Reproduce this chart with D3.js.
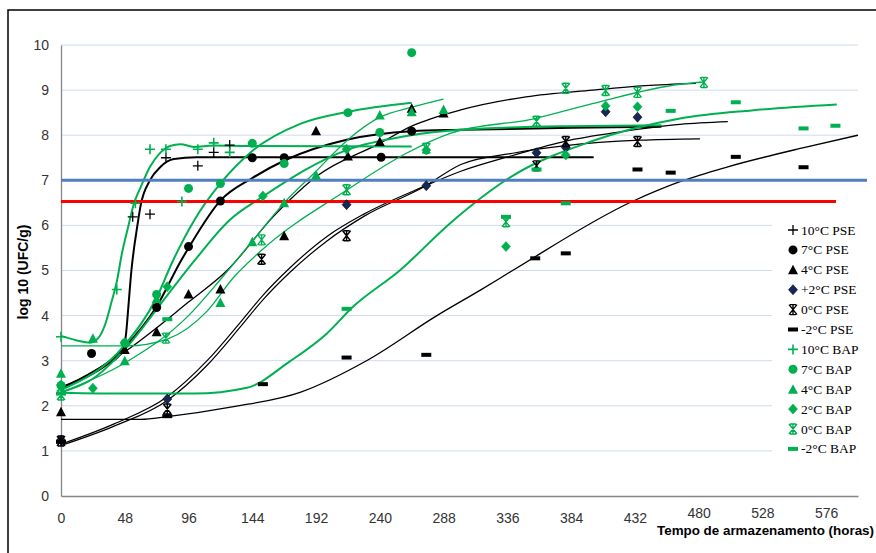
<!DOCTYPE html>
<html>
<head>
<meta charset="utf-8">
<script src="https://cdn.jsdelivr.net/npm/d3@7"></script>
<style>
  body { margin: 0; background: #fff; }
  svg { display: block; }
  .tick text { font-family: "Liberation Sans", Arial, sans-serif; font-size: 14px; fill: #333; }
</style>
</head>
<body>
<svg id="chart" width="876" height="553"></svg>
<script>
// axis ticks
const xTicks = [0, 48, 96, 144, 192, 240, 288, 336, 384, 432, 480, 528, 576];
const yTicks = [0, 1, 2, 3, 4, 5, 6, 7, 8, 9, 10];

// limit lines (log UFC/g)
const blueLimit = 7;
const redLimit = 6.53;

// observed points [hours, log UFC/g]
const pse10 = [[54, 6.19], [67, 6.25], [79, 7.5], [103, 7.32], [115, 7.62], [127, 7.78]];
const pse7 = [[23, 3.16], [72, 4.18], [96, 5.53], [120, 6.54], [144, 7.5], [168, 7.5], [241, 7.51], [264, 8.09]];
const pse4 = [[0, 1.87], [48, 3.25], [72, 3.64], [96, 4.48], [120, 4.59], [168, 5.77], [192, 8.1], [216, 7.54], [240, 7.86], [264, 8.6], [288, 8.49]];
const pseP2 = [[0, 1.24], [80, 2.15], [215, 6.46], [275, 6.88], [358, 7.61], [380, 7.73], [410, 8.52], [434, 8.4]];
const pse0 = [[0, 1.22], [80, 1.93], [151, 5.25], [215, 5.77], [358, 7.32], [380, 7.86], [434, 7.86]];
const pseM2 = [[0, 1.2], [80, 1.77], [152, 2.48], [215, 3.07], [275, 3.13], [357, 5.27], [380, 5.38], [434, 7.24], [459, 7.17], [508, 7.52], [559, 7.29]];

const bap10 = [[0, 3.53], [42, 4.58], [56, 6.49], [67, 7.69], [79, 7.69], [91, 6.53], [103, 7.69], [115, 7.83], [127, 7.62]];
const bap7 = [[0, 2.45], [48, 3.39], [72, 4.47], [96, 6.82], [120, 6.93], [144, 7.82], [168, 7.37], [216, 8.5], [240, 8.06], [264, 9.83]];
const bap4 = [[0, 2.72], [24, 3.5], [48, 3.0], [72, 4.38], [120, 4.29], [144, 5.64], [168, 6.5], [192, 7.12], [240, 8.45], [264, 8.52], [288, 8.57]];
const bap2 = [[0, 2.46], [24, 2.39], [48, 3.4], [80, 4.64], [152, 6.65], [215, 7.69], [275, 7.67], [335, 5.53], [380, 7.56], [410, 8.65], [434, 8.63]];
const bap0 = [[0, 2.24], [79, 3.5], [151, 5.68], [215, 6.79], [275, 7.71], [335, 6.08], [358, 8.31], [380, 9.04], [410, 8.99], [434, 8.95], [484, 9.17]];
const bapM2 = [[0, 2.27], [80, 3.92], [215, 4.15], [335, 6.19], [358, 7.24], [380, 6.49], [459, 8.54], [508, 8.73], [559, 8.15], [583, 8.21]];

// fitted growth curves
const fitPse10 = [[0, 2.4], [20, 2.65], [34, 2.9], [46, 3.2], [49, 3.6], [51, 4.3], [53, 5.0], [55, 5.5], [57, 5.9], [60, 6.45], [67, 7.0], [75, 7.3], [85, 7.47], [102, 7.51], [401, 7.51]];
const fitPse7 = [[0, 2.4], [47, 3.27], [72, 4.2], [90, 5.2], [96, 5.5], [120, 6.55], [144, 7.05], [169, 7.45], [215, 7.9], [264, 8.09], [301, 8.12], [400, 8.17], [452, 8.19]];
const fitPse4 = [[0, 2.37], [48, 3.2], [96, 4.3], [125, 5.0], [160, 6.2], [193, 7.1], [240, 7.82], [264, 8.2], [301, 8.56], [350, 8.85], [400, 9.0], [440, 9.1], [478, 9.15]];
const fitPseP2 = [[0, 1.15], [40, 1.6], [80, 2.2], [110, 3.0], [135, 3.85], [152, 4.45], [172, 5.05], [200, 5.75], [228, 6.25], [273, 6.86], [301, 7.2], [340, 7.55], [380, 7.87], [420, 8.07], [466, 8.24], [502, 8.3]];
const fitPse0 = [[0, 1.12], [40, 1.55], [80, 2.12], [110, 2.9], [135, 3.75], [152, 4.35], [172, 4.95], [200, 5.65], [228, 6.2], [273, 6.85], [301, 7.35], [340, 7.6], [380, 7.77], [436, 7.89], [481, 7.92]];
const fitPseM2 = [[0, 1.7], [60, 1.7], [80, 1.76], [130, 1.98], [180, 2.3], [230, 3.0], [283, 4.0], [316, 4.57], [340, 5.0], [430, 6.53], [466, 6.97], [502, 7.3], [560, 7.73], [600, 8.0]];

const fitBap10 = [[0, 3.55], [12, 3.45], [22, 3.4], [28, 3.5], [34, 3.87], [38, 4.3], [42, 4.75], [46, 5.4], [50, 5.9], [55, 6.49], [60, 6.85], [67, 7.3], [75, 7.62], [82, 7.76], [90, 7.8], [100, 7.74], [115, 7.77], [140, 7.76], [264, 7.75]];
const fitBap7 = [[0, 2.35], [48, 3.35], [72, 4.4], [84, 5.2], [100, 6.1], [120, 6.93], [144, 7.65], [180, 8.25], [216, 8.52], [264, 8.72]];
const fitBap4 = [[0, 2.3], [48, 2.95], [96, 4.0], [120, 4.8], [144, 5.65], [168, 6.5], [192, 7.2], [216, 7.9], [240, 8.4], [264, 8.62], [288, 8.8]];
const fitBap2 = [[0, 2.3], [24, 2.6], [48, 3.25], [80, 4.45], [100, 5.2], [127, 6.12], [152, 6.64], [215, 7.67], [260, 7.98], [301, 8.12], [380, 8.2], [452, 8.22]];
const fitBap0 = [[0, 3.33], [50, 3.33], [80, 3.48], [110, 4.1], [130, 4.85], [151, 5.45], [215, 6.78], [260, 7.6], [293, 8.04], [357, 8.37], [400, 8.7], [466, 9.13], [484, 9.18]];
const fitBapM2 = [[0, 2.29], [50, 2.27], [100, 2.27], [140, 2.4], [172, 2.98], [200, 3.6], [220, 4.2], [255, 5.0], [293, 6.05], [340, 7.1], [399, 7.86], [466, 8.37], [520, 8.55], [584, 8.68]];

const seriesNames = ["10°C PSE", "7°C PSE", "4°C PSE", "+2°C PSE", "0°C PSE", "-2°C PSE",
                     "10°C BAP", "7°C BAP", "4°C BAP", "2°C BAP", "0°C BAP", "-2°C BAP"];

const BLACK = "#000", NAVY = "#15285a", GREEN = "#00b050";

const series = [
  { name: seriesNames[0], pts: pse10, fit: fitPse10, sym: "plus", fill: BLACK, lw: 2 },
  { name: seriesNames[1], pts: pse7, fit: fitPse7, sym: "circle", fill: BLACK, lw: 2 },
  { name: seriesNames[2], pts: pse4, fit: fitPse4, sym: "triangle", fill: BLACK, lw: 1.3 },
  { name: seriesNames[3], pts: pseP2, fit: fitPseP2, sym: "diamond", fill: NAVY, lw: 1.2 },
  { name: seriesNames[4], pts: pse0, fit: fitPse0, sym: "star", fill: BLACK, lw: 1.2 },
  { name: seriesNames[5], pts: pseM2, fit: fitPseM2, sym: "dash", fill: BLACK, lw: 1.3 },
  { name: seriesNames[6], pts: bap10, fit: fitBap10, sym: "plus", fill: GREEN, lw: 2 },
  { name: seriesNames[7], pts: bap7, fit: fitBap7, sym: "circle", fill: GREEN, lw: 2 },
  { name: seriesNames[8], pts: bap4, fit: fitBap4, sym: "triangle", fill: GREEN, lw: 1.3 },
  { name: seriesNames[9], pts: bap2, fit: fitBap2, sym: "diamond", fill: GREEN, lw: 2 },
  { name: seriesNames[10], pts: bap0, fit: fitBap0, sym: "star", fill: GREEN, lw: 1.3 },
  { name: seriesNames[11], pts: bapM2, fit: fitBapM2, sym: "dash", fill: GREEN, lw: 2 }
];

const svg = d3.select("#chart");

// outer frame
svg.append("path")
  .attr("d", "M8,553 V10 H876")
  .attr("fill", "none")
  .attr("stroke", "#000")
  .attr("stroke-width", 1.5);

const x = d3.scaleLinear().domain([0, 600]).range([61, 858]);
const y = d3.scaleLinear().domain([0, 10]).range([496, 45]);

// gridlines
svg.append("g")
  .selectAll("line")
  .data(yTicks.filter(d => d > 0))
  .join("line")
  .attr("x1", x(0)).attr("x2", x(600))
  .attr("y1", d => y(d)).attr("y2", d => y(d))
  .attr("stroke", "#cfdbec")
  .attr("stroke-width", 1);

// axes
const xAxis = svg.append("g")
  .attr("transform", `translate(0,${y(0)})`)
  .call(d3.axisBottom(x).tickValues(xTicks).tickSize(0).tickSizeOuter(0).tickPadding(17));
const yAxis = svg.append("g")
  .attr("transform", `translate(${x(0)},0)`)
  .call(d3.axisLeft(y).tickValues(yTicks).tickSize(0).tickSizeOuter(0).tickPadding(12));
xAxis.select(".domain").attr("stroke", "#868686").attr("stroke-width", 1.3);
yAxis.select(".domain").attr("stroke", "#868686").attr("stroke-width", 1.3);
// the last labels sit a little higher, just above the axis title
xAxis.selectAll(".tick text").filter(d => d >= 480).attr("y", 12);

// fitted curves
const line = d3.line()
  .x(d => x(d[0]))
  .y(d => y(d[1]))
  .curve(d3.curveMonotoneX);

svg.append("g")
  .selectAll("path")
  .data(series)
  .join("path")
  .attr("d", d => line(d.fit))
  .attr("fill", "none")
  .attr("stroke", d => d.fill === GREEN ? GREEN : "#000")
  .attr("stroke-width", d => d.lw);

// limit lines
svg.append("line")
  .attr("x1", x(0)).attr("x2", 867)
  .attr("y1", y(blueLimit)).attr("y2", y(blueLimit))
  .attr("stroke", "#4f7fbf").attr("stroke-width", 3);
svg.append("line")
  .attr("x1", x(0)).attr("x2", 836)
  .attr("y1", y(redLimit)).attr("y2", y(redLimit))
  .attr("stroke", "#ff0000").attr("stroke-width", 3);

// marker drawing
function drawMarker(g, sym, color) {
  if (sym === "circle") {
    g.append("circle").attr("r", 4.5).attr("fill", color);
  } else if (sym === "triangle") {
    g.append("path").attr("d", "M0,-5 L5,4.5 L-5,4.5 Z").attr("fill", color);
  } else if (sym === "diamond") {
    g.append("path").attr("d", "M0,-5 L4.5,0 L0,5 L-4.5,0 Z").attr("fill", color)
      .attr("stroke", color === NAVY ? "#000" : color).attr("stroke-width", 0.6);
  } else if (sym === "plus") {
    g.append("path").attr("d", "M-5,0 H5 M0,-5 V5").attr("stroke", color)
      .attr("stroke-width", color === GREEN ? 1.6 : 1.3).attr("fill", "none");
  } else if (sym === "star") {
    g.append("path").attr("d", "M-4,-5 L4,5 M4,-5 L-4,5 M0,-5.5 V5.5 M-3,-5 H3 M-3,5 H3")
      .attr("stroke", color).attr("stroke-width", 1.4).attr("fill", "none");
  } else if (sym === "dash") {
    g.append("rect").attr("x", -5).attr("y", -2).attr("width", 10).attr("height", 4).attr("fill", color);
  }
}

// observed points
const ptsLayer = svg.append("g");
series.forEach(s => {
  s.pts.forEach(p => {
    const g = ptsLayer.append("g").attr("transform", `translate(${x(p[0])},${y(p[1])})`);
    drawMarker(g, s.sym, s.fill);
  });
});

// legend
const legend = svg.append("g");
legend.append("rect")
  .attr("x", 772).attr("y", 216).attr("width", 104).attr("height", 248)
  .attr("fill", "#fff");
series.forEach((s, i) => {
  const ly = 230 + i * 19.9;
  const g = legend.append("g").attr("transform", `translate(793,${ly})`);
  drawMarker(g, s.sym, s.fill);
  legend.append("text")
    .attr("x", 801).attr("y", ly + 4.5)
    .attr("font-family", "'Liberation Serif', 'Times New Roman', serif")
    .attr("font-size", 13.5)
    .attr("fill", "#000")
    .text(s.name);
});

// axis titles
svg.append("text")
  .attr("transform", `translate(28,272) rotate(-90)`)
  .attr("text-anchor", "middle")
  .attr("font-family", "'Liberation Sans', Arial, sans-serif")
  .attr("font-weight", "bold")
  .attr("font-size", 14)
  .attr("fill", "#000")
  .text("log 10 (UFC/g)");

svg.append("text")
  .attr("x", 657).attr("y", 535)
  .attr("font-family", "'Liberation Sans', Arial, sans-serif")
  .attr("font-weight", "bold")
  .attr("font-size", 13)
  .attr("textLength", 217)
  .attr("lengthAdjust", "spacingAndGlyphs")
  .attr("fill", "#000")
  .text("Tempo de armazenamento (horas)");
</script>
</body>
</html>
